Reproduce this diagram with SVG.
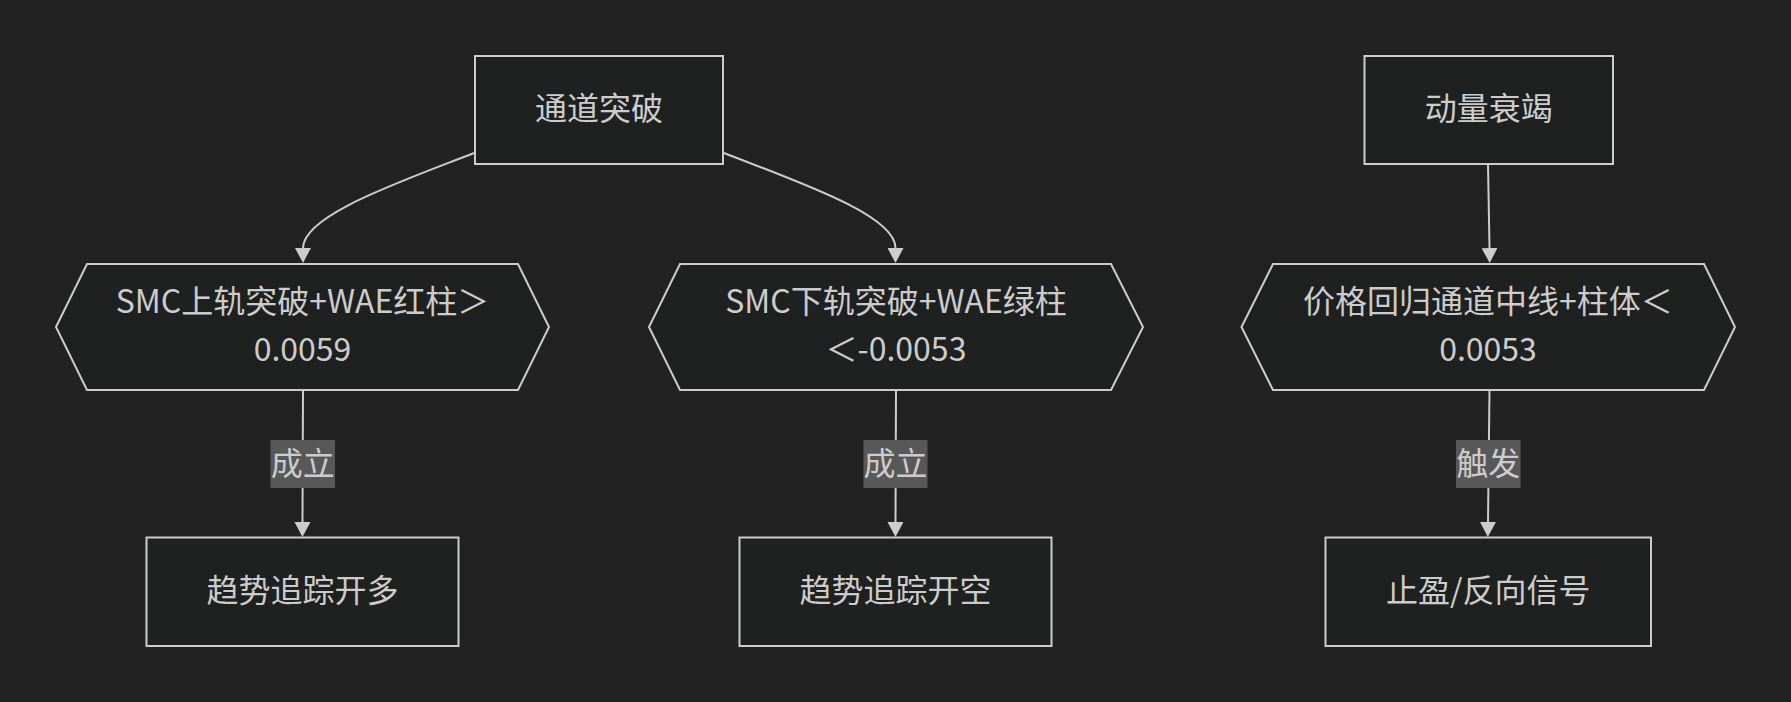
<svg xmlns="http://www.w3.org/2000/svg" width="1791" height="702" viewBox="0 0 1791 702">
  <style>
    .bg { fill: #222222; }
    .node { fill: #1f2020; stroke: #cccccc; stroke-width: 2; }
    .txt { font-family: "Noto Sans CJK SC", "Noto Sans", sans-serif; font-size: 32px; fill: #cccccc; text-anchor: middle; }
    .edge { fill: none; stroke: #cccccc; stroke-width: 2; }
    .lbl { fill: #585858; }
  </style>
  <defs>
    <marker id="arrow" viewBox="0 0 15 16" refX="0" refY="8" markerWidth="15" markerHeight="16" markerUnits="userSpaceOnUse" orient="auto">
      <path d="M0,0 L15,8 L0,16 z" fill="#cccccc"/>
    </marker>
  </defs>
  <rect class="bg" x="0" y="0" width="1791" height="702"/>

  <g id="connectors">
    <path class="edge" d="M474,153 C400,182 303,215 303,248" marker-end="url(#arrow)"/>
    <path class="edge" d="M724,153 C798,182 895.5,215 895.5,248" marker-end="url(#arrow)"/>
    <path class="edge" d="M1488,164 L1489.5,248" marker-end="url(#arrow)"/>
    <path class="edge" d="M303,390 L302.5,522" marker-end="url(#arrow)"/>
    <path class="edge" d="M896,390 L895.5,522" marker-end="url(#arrow)"/>
    <path class="edge" d="M1489.5,390 L1488,522" marker-end="url(#arrow)"/>
    <g id="label-1">
      <rect class="lbl" x="270.5" y="440" width="64.5" height="48"/>
      <text class="txt" x="302.8" y="475">成立</text>
    </g>
    <g id="label-2">
      <rect class="lbl" x="863.5" y="440" width="64" height="48"/>
      <text class="txt" x="895.5" y="475">成立</text>
    </g>
    <g id="label-3">
      <rect class="lbl" x="1456" y="440" width="64.5" height="48"/>
      <text class="txt" x="1488.2" y="475">触发</text>
    </g>
  </g>

  <g id="node-breakout">
    <rect class="node" x="475" y="56" width="248" height="108"/>
    <text class="txt" x="599" y="120">通道突破</text>
  </g>
  <g id="node-momentum">
    <rect class="node" x="1364.5" y="56" width="248.5" height="108"/>
    <text class="txt" x="1488.7" y="120">动量衰竭</text>
  </g>

  <g id="node-cond-long">
    <polygon class="node" points="87,264 518,264 549,327 518,390 87,390 56,327"/>
    <text class="txt" x="302.5" y="313">SMC上轨突破+WAE红柱＞</text>
    <text class="txt" x="302.5" y="361">0.0059</text>
  </g>
  <g id="node-cond-short">
    <polygon class="node" points="680,264 1111,264 1143,327 1111,390 680,390 649,327"/>
    <text class="txt" x="896" y="313">SMC下轨突破+WAE绿柱</text>
    <text class="txt" x="896" y="361">＜-0.0053</text>
  </g>
  <g id="node-cond-exit">
    <polygon class="node" points="1273,264 1704,264 1735,327 1704,390 1273,390 1241.5,327"/>
    <text class="txt" x="1488" y="313">价格回归通道中线+柱体＜</text>
    <text class="txt" x="1488" y="361">0.0053</text>
  </g>

  <g id="node-long">
    <rect class="node" x="146.5" y="537.5" width="312" height="108.5"/>
    <text class="txt" x="302.5" y="602">趋势追踪开多</text>
  </g>
  <g id="node-short">
    <rect class="node" x="739.5" y="537.5" width="312" height="108.5"/>
    <text class="txt" x="895.5" y="602">趋势追踪开空</text>
  </g>
  <g id="node-exit">
    <rect class="node" x="1325.5" y="537.5" width="325.5" height="108.5"/>
    <text class="txt" x="1488.3" y="602">止盈/反向信号</text>
  </g>
</svg>
